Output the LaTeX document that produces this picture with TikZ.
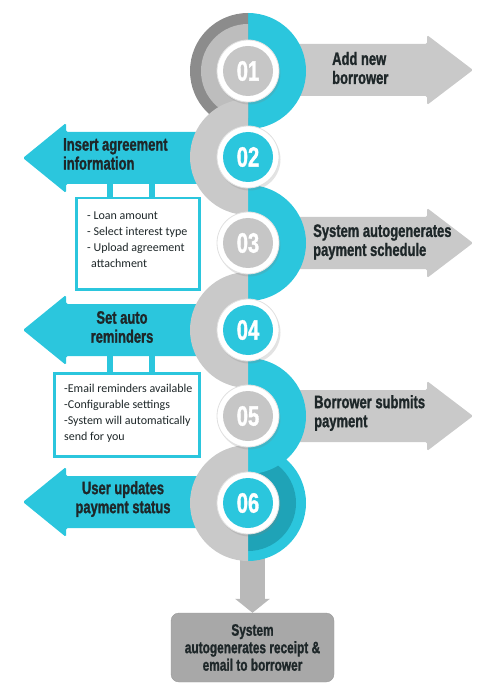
\documentclass[tikz,border=0pt]{standalone}
\usepackage{fontspec}
\setmainfont{Carlito}
\newfontfamily\headfont{Liberation Sans}[FakeStretch=0.72,FakeBold=1.2]
\usetikzlibrary{arrows.meta,shadows}

\definecolor{stepcyan}{HTML}{2BC6DD}
\definecolor{arrowgray}{HTML}{C9C9C9}
\definecolor{numgray}{HTML}{C6C6C6}
\definecolor{ringdark}{HTML}{8C8C8C}
\definecolor{ringlight}{HTML}{BDBDBD}
\definecolor{tealdark}{HTML}{1FA3B7}
\definecolor{inkdark}{HTML}{1E2729}
\definecolor{resultgray}{HTML}{A8A8A8}

\begin{document}
\begin{tikzpicture}[x=1pt,y=-1pt,
  head/.style={font=\headfont\bfseries\fontsize{18}{19}\selectfont, text=inkdark, inner sep=0pt},
  infobox/.style={draw=stepcyan, line width=2.5pt, fill=white, inner sep=0pt},
  infotext/.style={font=\fontsize{12}{16}\selectfont, text=inkdark, align=left, inner sep=0pt},
  ladder/.style={draw=stepcyan, line width=6pt},
  numring/.style={circle, fill=white, draw=black!12, line width=0.8pt, minimum size=62pt,
    drop shadow={opacity=0.22, shadow xshift=1.5pt, shadow yshift=-2.5pt}},
  numdisk/.style={circle, minimum size=50pt, inner sep=0pt, text=white,
    font=\headfont\bfseries\fontsize{28}{28}\selectfont},
  downarrow/.style={draw=arrowgray!92!black, line width=25pt, -{Triangle[width=34pt,length=14pt]}}
]
\useasboundingbox (0,0) rectangle (497,700);

% --- RIGHT ARROWS ---
\foreach \y in {70,243,416} {
  \fill[arrowgray, rounded corners=1.5pt] (248,\y-26) -- (427,\y-26) -- (427,\y-35) -- (473,\y)
     -- (427,\y+35) -- (427,\y+26) -- (248,\y+26) -- cycle;
}

% --- LEFT ARROWS ---
\foreach \y in {158,330,502} {
  \fill[stepcyan, rounded corners=1.5pt] (248,\y-26) -- (66,\y-26) -- (66,\y-35) -- (23,\y)
     -- (66,\y+35) -- (66,\y+26) -- (248,\y+26) -- cycle;
}

% info boxes
\node[infobox, minimum width=123pt, minimum height=91pt, anchor=north west] (info2) at (75,197) {};
\node[infobox, minimum width=145pt, minimum height=83pt, anchor=north west] (info4) at (53,372) {};
\foreach \bx in {110,152} {
  \draw[ladder] (\bx,183) -- (\bx,0 |- info2.north);
  \draw[ladder] (\bx,355) -- (\bx,0 |- info4.north);
}
\node[infotext, anchor=north west] (list2) at (87,212) {- Loan amount\\- Select interest type\\- Upload agreement\\\hspace*{4pt}attachment};
\node[infotext, anchor=north west] (list4) at (64,384) {-Email reminders available\\-Configurable settings\\-System will automatically\\send for you};

% result
\node[fill=resultgray, draw=black!40, rounded corners=8pt, minimum width=163pt, minimum height=69pt,
  align=center, text=inkdark, font=\headfont\bfseries\fontsize{16.5}{17.5}\selectfont] (result) at (252.5,647.5)
  {System\\autogenerates receipt \&\\email to borrower};
\draw[downarrow] (result.north |- 0,503) -- (result.north);

% --- SPINE ---
% right halves
\begin{scope}
  \clip (248,0) rectangle (497,700);
  \fill[stepcyan] (248,503) circle[radius=58];
  \fill[tealdark] (248,503) circle[radius=48];
  \foreach \y in {71,243,416}
    \fill[stepcyan] (248,\y) circle[radius=58];
\end{scope}
% left halves
\begin{scope}
  \clip (0,0) rectangle (248,700);
  \fill[ringdark] (248,71) circle[radius=58];
  \fill[ringlight] (248,71) circle[radius=47];
  \foreach \y in {157,330,503}
    \fill[arrowgray] (248,\y) circle[radius=58];
\end{scope}

% number circles
\foreach \i/\y/\col in {1/71/numgray,2/157/stepcyan,3/243/numgray,4/330/stepcyan,5/416/numgray,6/503/stepcyan} {
  \node[numring] (r\i) at (248,\y) {};
  \node[numdisk, fill=\col] (c\i) at (r\i) {0\i};
}

% step labels
\node[head, align=left, anchor=west] (step1) at (332,68) {Add new\\borrower};
\node[head, align=left, anchor=west] (step2) at (63,154) {Insert agreement\\information};
\node[head, align=left, anchor=west] (step3) at (313,242) {System autogenerates\\payment schedule};
\node[head, align=center] (step4) at (122,327) {Set auto\\reminders};
\node[head, align=left, anchor=west] (step5) at (314,413) {Borrower submits\\payment};
\node[head, align=center] (step6) at (123,499) {User updates\\payment status};
\end{tikzpicture}
\end{document}
